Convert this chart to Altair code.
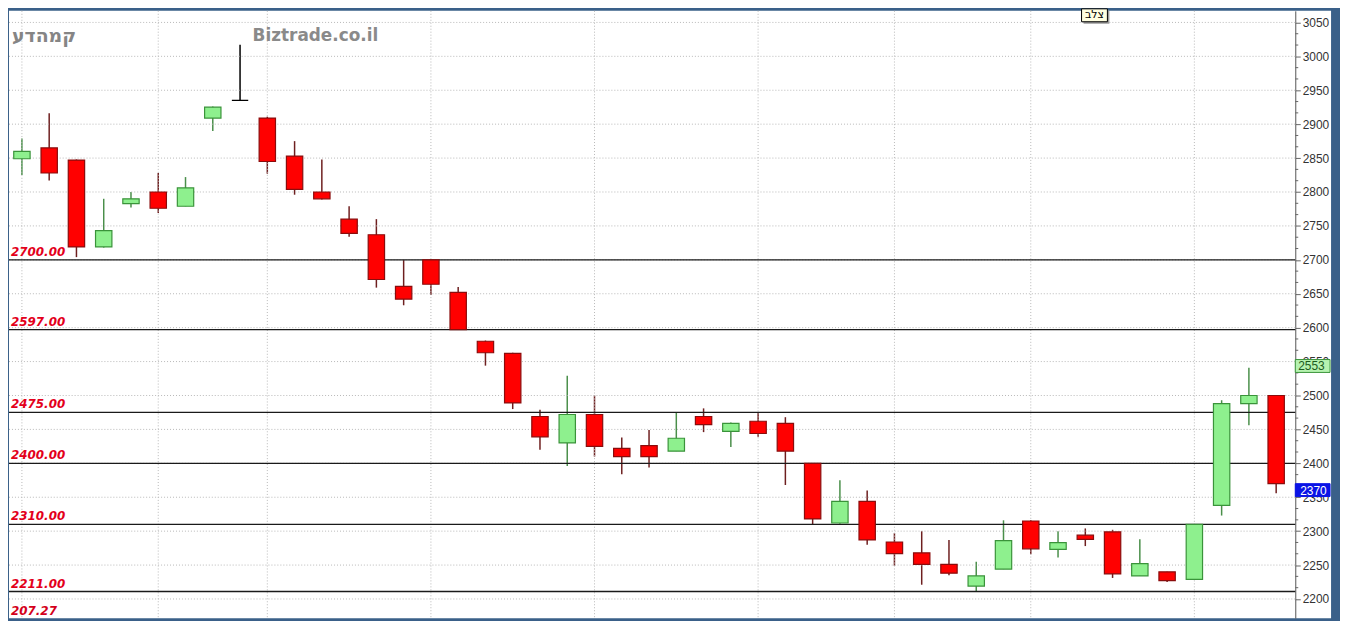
import altair as alt
import pandas as pd

# ---- data ----
opens  = [2849, 2865, 2847, 2719, 2783, 2800, 2779, 2909, 2935, 2909, 2853, 2800, 2760, 2737, 2661, 2700,
          2652, 2580, 2562, 2469, 2430, 2472, 2422, 2426, 2418, 2469, 2447, 2462, 2459, 2400, 2312, 2344,
          2284, 2268, 2251, 2219, 2244, 2315, 2273, 2294, 2299, 2234, 2240, 2229, 2338, 2488, 2500]
highs  = [2879, 2916, 2848, 2790, 2800, 2828, 2822, 2926, 3017, 2911, 2875, 2848, 2779, 2760, 2700, 2700,
          2660, 2581, 2563, 2479, 2529, 2500, 2438, 2449, 2475, 2481, 2460, 2475, 2468, 2400, 2375, 2360,
          2297, 2300, 2287, 2255, 2316, 2316, 2300, 2304, 2302, 2288, 2240, 2310, 2493, 2541, 2500]
lows   = [2825, 2817, 2704, 2718, 2777, 2769, 2779, 2890, 2935, 2827, 2796, 2789, 2734, 2659, 2633, 2648,
          2597, 2544, 2480, 2420, 2396, 2410, 2384, 2394, 2418, 2446, 2424, 2439, 2368, 2310, 2311, 2280,
          2249, 2221, 2235, 2211, 2244, 2266, 2261, 2278, 2231, 2234, 2225, 2229, 2323, 2456, 2356]
closes = [2860, 2828, 2719, 2743, 2790, 2776, 2806, 2925, 2935, 2845, 2804, 2790, 2739, 2671, 2642, 2664,
          2597, 2563, 2489, 2439, 2472, 2425, 2410, 2410, 2437, 2457, 2459, 2444, 2418, 2318, 2344, 2287,
          2267, 2251, 2238, 2234, 2286, 2274, 2283, 2288, 2237, 2252, 2227, 2310, 2488, 2500, 2370]

level_values = [2700, 2597, 2475, 2400, 2310, 2211]
level_labels = ["2700.00", "2597.00", "2475.00", "2400.00", "2310.00", "2211.00"]

major_ticks = [2200, 2250, 2300, 2350, 2400, 2450, 2500, 2550, 2600, 2650, 2700, 2750, 2800,
               2850, 2900, 2950, 3000, 3050]
minor_ticks = [round(m + k * 50 / 3, 3) for m in major_ticks[:-1] for k in (1, 2)]

vgrid_idx = [0, 5, 9, 15, 21, 27, 32, 37, 43]

green_box_value = 2553
blue_box_value = 2370

bottom_label = "207.27"
title_he = "קמהדע"
title_site = "Biztrade.co.il"
cross_label = "צלב"

# ---- frames ----
n = len(opens)
dirs = ["up" if c > o else ("down" if c < o else "flat") for o, c in zip(opens, closes)]
df = pd.DataFrame({"i": list(range(n)), "open": opens, "high": highs, "low": lows,
                   "close": closes, "dir": dirs})
lv = pd.DataFrame({"level": level_values, "label": level_labels})
grid_df = pd.DataFrame({"g": major_ticks})
minor_df = pd.DataFrame({"m": minor_ticks})
vg_df = pd.DataFrame({"i": vgrid_idx})
gb_df = pd.DataFrame({"val": [green_box_value], "txt": [str(green_box_value)]})
bb_df = pd.DataFrame({"val": [blue_box_value], "txt": [str(blue_box_value)]})

W, H = 1330, 611
AX = 1294  # axis position inside view
xscale = alt.Scale(domain=[-0.474, 48.013], nice=False, zero=False)
yscale = alt.Scale(domain=[2171.7, 3067.1], nice=False, zero=False)

fill_scale = alt.Scale(domain=["up", "down", "flat"], range=["#8ef08e", "#ff0000", "#000000"])
stroke_scale = alt.Scale(domain=["up", "down", "flat"], range=["#3a933a", "#8a0c0c", "#000000"])
wick_scale = alt.Scale(domain=["up", "down", "flat"], range=["#4a8f4a", "#6e1f1f", "#000000"])

yaxis = alt.Axis(orient="right", offset=-(W - AX), values=major_ticks,
                 format="d", grid=False, title=None, tickSize=5,
                 tickColor="#666", domainColor="#555", labelColor="#333",
                 labelFont="Liberation Sans", labelFontSize=12, labelPadding=2,
                 labelFlush=False, labelOverlap=False)


def Y(field):
    return alt.Y(field, scale=yscale, title=None, axis=yaxis)


hgrid = alt.Chart(grid_df).mark_rule(color="#b8b8b8", strokeWidth=1, strokeDash=[1, 2]).encode(
    y=Y("g:Q"), x=alt.value(0), x2=alt.value(AX))

minor = alt.Chart(minor_df).mark_rule(color="#666666", strokeWidth=1).encode(
    y=Y("m:Q"), x=alt.value(AX), x2=alt.value(AX + 3))

vgrid = alt.Chart(vg_df).mark_rule(color="#b8b8b8", strokeWidth=1, strokeDash=[1, 2]).encode(
    x=alt.X("i:Q", scale=xscale, axis=None), y=alt.value(0), y2=alt.value(H))

levels = alt.Chart(lv).mark_rule(color="#1a1a1a", strokeWidth=1.3).encode(
    y=Y("level:Q"), x=alt.value(0), x2=alt.value(AX))

level_text = alt.Chart(lv).mark_text(align="left", baseline="alphabetic", dy=-4, dx=0,
                                     font="DejaVu Sans", fontSize=12, fontWeight="bold",
                                     fontStyle="italic", color="#e3001b").encode(
    y=Y("level:Q"), x=alt.value(2), text="label:N")

wicks = alt.Chart(df).mark_rule(strokeWidth=1.5).encode(
    x=alt.X("i:Q", scale=xscale, axis=None),
    y=Y("low:Q"), y2="high:Q",
    color=alt.Color("dir:N", scale=wick_scale, legend=None))

bodies = alt.Chart(df).transform_calculate(
    x0="datum.i - 0.3", x1="datum.i + 0.3").mark_rect(strokeWidth=1.2).encode(
    x=alt.X("x0:Q", scale=xscale, axis=None), x2="x1:Q",
    y=Y("open:Q"), y2="close:Q",
    fill=alt.Fill("dir:N", scale=fill_scale, legend=None),
    stroke=alt.Stroke("dir:N", scale=stroke_scale, legend=None))

gbox = alt.Chart(gb_df).transform_calculate(lo="datum.val - 19").mark_rect(
    fill="#b6f2b0", stroke="#3a933a", strokeWidth=1).encode(
    y=Y("val:Q"), y2="lo:Q", x=alt.value(AX), x2=alt.value(AX + 35))
gbox_text = alt.Chart(gb_df).mark_text(align="left", baseline="middle", dy=7, font="Liberation Sans",
                                       fontSize=12, color="#1c5a1c").encode(
    y=Y("val:Q"), x=alt.value(AX + 3), text="txt:N")
bbox = alt.Chart(bb_df).transform_calculate(lo="datum.val - 19").mark_rect(
    fill="#0a14e6", stroke="#0a14e6", strokeWidth=1).encode(
    y=Y("val:Q"), y2="lo:Q", x=alt.value(AX), x2=alt.value(AX + 35))
bbox_text = alt.Chart(bb_df).mark_text(align="left", baseline="middle", dy=7, font="Liberation Sans",
                                       fontSize=12, color="#ffffff").encode(
    y=Y("val:Q"), x=alt.value(AX + 5), text="txt:N")

ann = pd.DataFrame({"t": [title_he]})
he_text = alt.Chart(ann).mark_text(align="left", baseline="middle", font="DejaVu Sans", fontSize=19,
                                   fontWeight="bold", color="#858585").encode(
    x=alt.value(3), y=alt.value(25), text="t:N")
site = pd.DataFrame({"t": [title_site]})
site_text = alt.Chart(site).mark_text(align="left", baseline="middle", font="DejaVu Sans", fontSize=17,
                                      fontWeight="bold", color="#8a8a8a").encode(
    x=alt.value(245), y=alt.value(25), text="t:N")

bl = pd.DataFrame({"t": [bottom_label]})
bottom_text = alt.Chart(bl).mark_text(align="left", baseline="alphabetic", font="DejaVu Sans", fontSize=12,
                                      fontWeight="bold", fontStyle="italic", color="#d4001b").encode(
    x=alt.value(2), y=alt.value(608), text="t:N")

cl = pd.DataFrame({"t": [cross_label]})
cross_shadow = alt.Chart(cl).mark_rect(fill="#9a9a9a").encode(
    x=alt.value(1081), x2=alt.value(1107), y=alt.value(0), y2=alt.value(13))
cross_box = alt.Chart(cl).mark_rect(fill="#ffffe1", stroke="#000000", strokeWidth=1).encode(
    x=alt.value(1079), x2=alt.value(1105), y=alt.value(-2), y2=alt.value(11))
cross_text = alt.Chart(cl).mark_text(align="center", baseline="middle", font="DejaVu Sans", fontSize=11,
                                     color="#000000").encode(
    x=alt.value(1092), y=alt.value(4.5), text="t:N")

chart = alt.layer(
    wicks, hgrid, minor, vgrid, levels, level_text, bodies, gbox, gbox_text, bbox, bbox_text,
    he_text, site_text, bottom_text, cross_shadow, cross_box, cross_text
).properties(
    width=W, height=H,
    padding={"left": 1, "top": 1, "right": 9, "bottom": 1},
    autosize=alt.AutoSizeParams(type="none"),
    background="#3a6089",
).configure_view(fill="white", strokeWidth=0).configure_axis(labelOverlap=False)

chart.save("out.html", embed_options={"renderer": "svg", "actions": False})
